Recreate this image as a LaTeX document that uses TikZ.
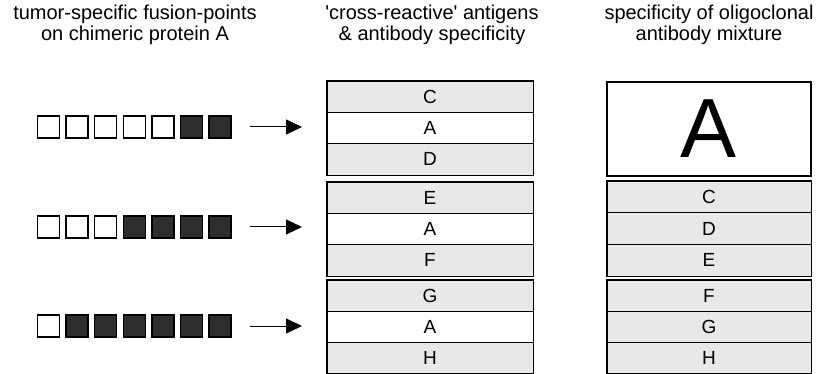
\documentclass[tikz,border=0pt]{standalone}
\usepackage{fontspec}
\setmainfont{Liberation Sans}
\usetikzlibrary{arrows.meta,fit}
\begin{document}
\begin{tikzpicture}[x=1pt,y=-1pt,
  hdr/.style={font=\fontsize{20}{21}\selectfont, align=center, inner sep=0pt},
  row/.style={draw, line width=0.8pt, minimum width=206pt, minimum height=31.3pt, inner sep=0pt, font=\fontsize{19}{19}\selectfont},
  shaded/.style={row, fill=black!9},
  plain/.style={row, fill=white},
  grp/.style={draw, line width=1.6pt, inner sep=0pt},
  wsq/.style={draw, line width=1.4pt, minimum size=22pt, inner sep=0pt, fill=white},
  bsq/.style={wsq, fill=black!82},
  arr/.style={-{Triangle[length=16pt,width=15pt]}, line width=1pt}
]
\useasboundingbox (0,0) rectangle (822,374);

% headers
\node[hdr, anchor=north] (h1) at (135,5) {tumor-specific fusion-points\\on chimeric protein A};
\node[hdr, anchor=north] (h2) at (432,5) {\textquotesingle cross-reactive\textquotesingle{} antigens\\\& antibody specificity};
\node[hdr, anchor=north] (h3) at (709,5) {specificity of oligoclonal\\antibody mixture};

% left squares
\foreach \i/\s in {0/wsq,1/wsq,2/wsq,3/wsq,4/wsq,5/bsq,6/bsq}
  \node[\s] (r1s\i) at ({48.5+28.6*\i},127) {};
\foreach \i/\s in {0/wsq,1/wsq,2/wsq,3/bsq,4/bsq,5/bsq,6/bsq}
  \node[\s] (r2s\i) at ({48.5+28.6*\i},227) {};
\foreach \i/\s in {0/wsq,1/bsq,2/bsq,3/bsq,4/bsq,5/bsq,6/bsq}
  \node[\s] (r3s\i) at ({48.5+28.6*\i},326) {};

% arrows
\coordinate (a1s) at (250,127); \coordinate (a1e) at (302,127);
\coordinate (a2s) at (250,227); \coordinate (a2e) at (302,227);
\coordinate (a3s) at (250,326); \coordinate (a3e) at (302,326);
\draw[arr] (a1s) -- (a1e);
\draw[arr] (a2s) -- (a2e);
\draw[arr] (a3s) -- (a3e);

% middle column
\node[shaded] (m1c) at (430,96.7) {C};
\node[plain]  (m1a) at (430,128) {A};
\node[shaded] (m1d) at (430,159.3) {D};
\node[grp, fit=(m1c)(m1d)] (g1) {};
\node[shaded] (m2e) at (430,197.7) {E};
\node[plain]  (m2a) at (430,229) {A};
\node[shaded] (m2f) at (430,260.3) {F};
\node[grp, fit=(m2e)(m2f)] (g2) {};
\node[shaded] (m3g) at (430,296.3) {G};
\node[plain]  (m3a) at (430,327.3) {A};
\node[shaded] (m3h) at (430,357.8) {H};
\node[grp, fit=(m3g)(m3h)] (g3) {};

% right column
\node[draw, line width=1.2pt, fill=white, minimum width=204pt, minimum height=94pt, inner sep=0pt, font=\fontsize{84}{84}\selectfont] (rA) at (709,129) {A};
\node[shaded, minimum width=204pt, minimum height=31.7pt] (rc) at (709,196.8) {C};
\node[shaded, minimum width=204pt, minimum height=31.7pt] (rd) at (709,228.5) {D};
\node[shaded, minimum width=204pt, minimum height=31.7pt] (re) at (709,260.2) {E};
\node[grp, fit=(rc)(re)] (g4) {};
\node[shaded, minimum width=204pt, minimum height=31pt] (rf) at (709,295.5) {F};
\node[shaded, minimum width=204pt, minimum height=31pt] (rg) at (709,326.5) {G};
\node[shaded, minimum width=204pt, minimum height=31pt] (rh) at (709,357.5) {H};
\node[grp, fit=(rf)(rh)] (g5) {};
\end{tikzpicture}
\end{document}
